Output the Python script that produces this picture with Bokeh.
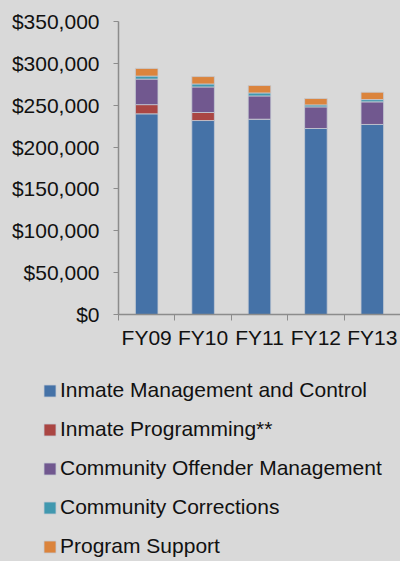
from bokeh.plotting import figure
from bokeh.layouts import column
from bokeh.models import (FixedTicker, NumeralTickFormatter, Legend, Range1d,
                          ColumnDataSource)
from bokeh.embed import file_html
from bokeh.resources import INLINE

categories = ["FY09", "FY10", "FY11", "FY12", "FY13"]
inmate_management = [239700, 231700, 233300, 222200, 227000]
inmate_programming = [11000, 9600, 0, 0, 0]
community_offender = [30500, 30500, 27800, 25800, 27000]
community_corrections = [3600, 3600, 3600, 2400, 2700]
program_support = [9200, 8800, 8800, 7600, 8800]
series_names = ["Inmate Management and Control", "Inmate Programming**",
                "Community Offender Management", "Community Corrections",
                "Program Support"]
y_ticks = [0, 50000, 100000, 150000, 200000, 250000, 300000, 350000]

colors = ["#4572A7", "#AA4643", "#71588F", "#4198AF", "#DB843D"]
BG = "#d9d9d9"
AXIS = "#8c8c8c"
EDGE = "#c5cad3"
FONT = "Liberation Sans"

xs = [i + 0.5 for i in range(len(categories))]
keys = ["s0", "s1", "s2", "s3", "s4"]
series = [inmate_management, inmate_programming, community_offender,
          community_corrections, program_support]
data = {"x": xs}
for k, v in zip(keys, series):
    data[k] = v
src = ColumnDataSource(data)

p = figure(width=400, height=356, output_backend="svg", toolbar_location=None,
           x_range=Range1d(0, len(categories)), y_range=Range1d(0, y_ticks[-1]),
           min_border_left=118, min_border_right=0, min_border_top=21,
           min_border_bottom=42, background_fill_color=BG,
           border_fill_color=BG, outline_line_color=None, frame_align=False)

renderers = p.vbar_stack(keys, x="x", width=0.4, source=src,
                         fill_color=colors, line_color=EDGE, line_width=0.8)

p.xgrid.visible = False
p.ygrid.visible = False

xa = p.xaxis[0]
xa.ticker = FixedTicker(ticks=xs, minor_ticks=list(range(len(categories) + 1)))
xa.major_label_overrides = {x: c for x, c in zip(xs, categories)}
xa.major_tick_line_color = None
xa.major_tick_out = 0
xa.major_tick_in = 0
xa.minor_tick_line_color = AXIS
xa.minor_tick_out = 6
xa.minor_tick_in = 0
xa.axis_line_color = AXIS
xa.axis_line_width = 1.5
xa.major_label_text_font = FONT
xa.major_label_text_font_size = "21px"
xa.major_label_text_color = "#111111"
xa.major_label_standoff = 5

ya = p.yaxis[0]
ya.ticker = FixedTicker(ticks=y_ticks, minor_ticks=[])
ya.formatter = NumeralTickFormatter(format="$0,0")
ya.major_tick_out = 5
ya.major_tick_in = 0
ya.major_tick_line_color = AXIS
ya.minor_tick_line_color = None
ya.axis_line_color = AXIS
ya.axis_line_width = 1.5
ya.major_label_text_font = FONT
ya.major_label_text_font_size = "21px"
ya.major_label_text_color = "#111111"
ya.major_label_standoff = 14

# legend panel (separate figure below the chart); its renderers are hidden
p2 = figure(width=400, height=205, output_backend="svg", toolbar_location=None,
            x_range=Range1d(0, 1), y_range=Range1d(0, 1),
            x_axis_location=None, y_axis_location=None,
            min_border=0, background_fill_color=BG, border_fill_color=BG,
            outline_line_color=None, frame_align=False)
p2.xgrid.visible = False
p2.ygrid.visible = False
legend_renderers = []
for k, c in zip(keys, colors):
    r = p2.vbar(x="x", top=k, width=0.4, source=src, fill_color=c,
                line_color=EDGE, line_width=0.8)
    r.visible = False
    legend_renderers.append(r)

legend = Legend(items=[(n, [r]) for n, r in zip(series_names, legend_renderers)],
                location=(42, 3), orientation="vertical",
                glyph_width=15, glyph_height=15, label_height=21, spacing=15,
                label_standoff=3, padding=0, margin=0,
                inactive_fill_alpha=0,
                background_fill_alpha=0, border_line_color=None,
                label_text_font=FONT, label_text_font_size="21px",
                label_text_color="#111111")
p2.add_layout(legend, "center")

layout = column(p, p2, spacing=0)

html = file_html(layout, INLINE)
html = html.replace("</head>", "<style>html,body{background:#d9d9d9;overflow:hidden;}</style></head>")
open("out.html", "w").write(html)
